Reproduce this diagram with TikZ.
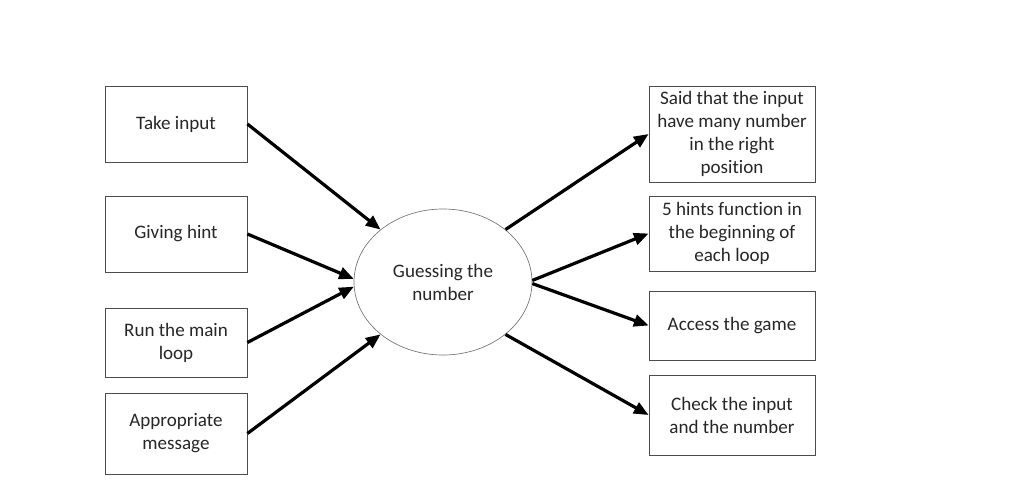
\documentclass[tikz,border=0pt]{standalone}
\usepackage{fontspec}
\setmainfont{Carlito}[Ligatures=NoCommon]
\usetikzlibrary{shapes.geometric,arrows.meta}

\begin{document}
\begin{tikzpicture}[x=0.75pt, y=-0.75pt,
    every node/.style={font=\fontsize{14.3}{17.3}\selectfont, text=black!85},
    box/.style={draw=black!70, line width=0.6pt, align=center, inner sep=2pt},
    link/.style={line width=2.4pt, -{Triangle[length=11pt,width=9pt]}}]
    \useasboundingbox (0,0) rectangle (1016,492);

    % Left boxes
    \node[box, minimum width=106.5pt, minimum height=57pt] (input) at (176,124) {Take input};
    \node[box, minimum width=106.5pt, minimum height=57pt] (hint) at (176,234) {Giving hint};
    \node[box, minimum width=106.5pt, minimum height=51.75pt] (mainloop) at (176,342.5) {Run the main\\loop};
    \node[box, minimum width=106.5pt, minimum height=60.75pt] (message) at (176,433.5) {Appropriate\\message};

    % Centre
    \node[ellipse, draw=black!55, line width=0.5pt, minimum width=133.5pt, minimum height=109.5pt, inner sep=0pt, align=center] (guess) at (443,282) {Guessing the\\number};

    % Right boxes
    \node[box, minimum width=124.5pt, minimum height=72pt] (said) at (732,134) {Said that the input\\have many number\\in the right\\position};
    \node[box, minimum width=124.5pt, minimum height=56.25pt] (hints) at (732,233.5) {5 hints function in\\the beginning of\\each loop};
    \node[box, minimum width=124.5pt, minimum height=51.75pt] (access) at (732,325.5) {Access the game};
    \node[box, minimum width=124.5pt, minimum height=60pt] (check) at (732,415) {Check the input\\and the number};

    % Arrows
    \draw[link] (input.east) -- (guess.140);
    \draw[link] (hint.east) -- (guess.178);
    \draw[link] (mainloop.east) -- (guess.183);
    \draw[link] (message.east) -- (guess.220);
    \draw[link] (guess.40) -- (said.west);
    \draw[link] (guess.1) -- (hints.west);
    \draw[link] (guess.359) -- (access.west);
    \draw[link] (guess.320) -- (check.west);

\end{tikzpicture}
\end{document}
